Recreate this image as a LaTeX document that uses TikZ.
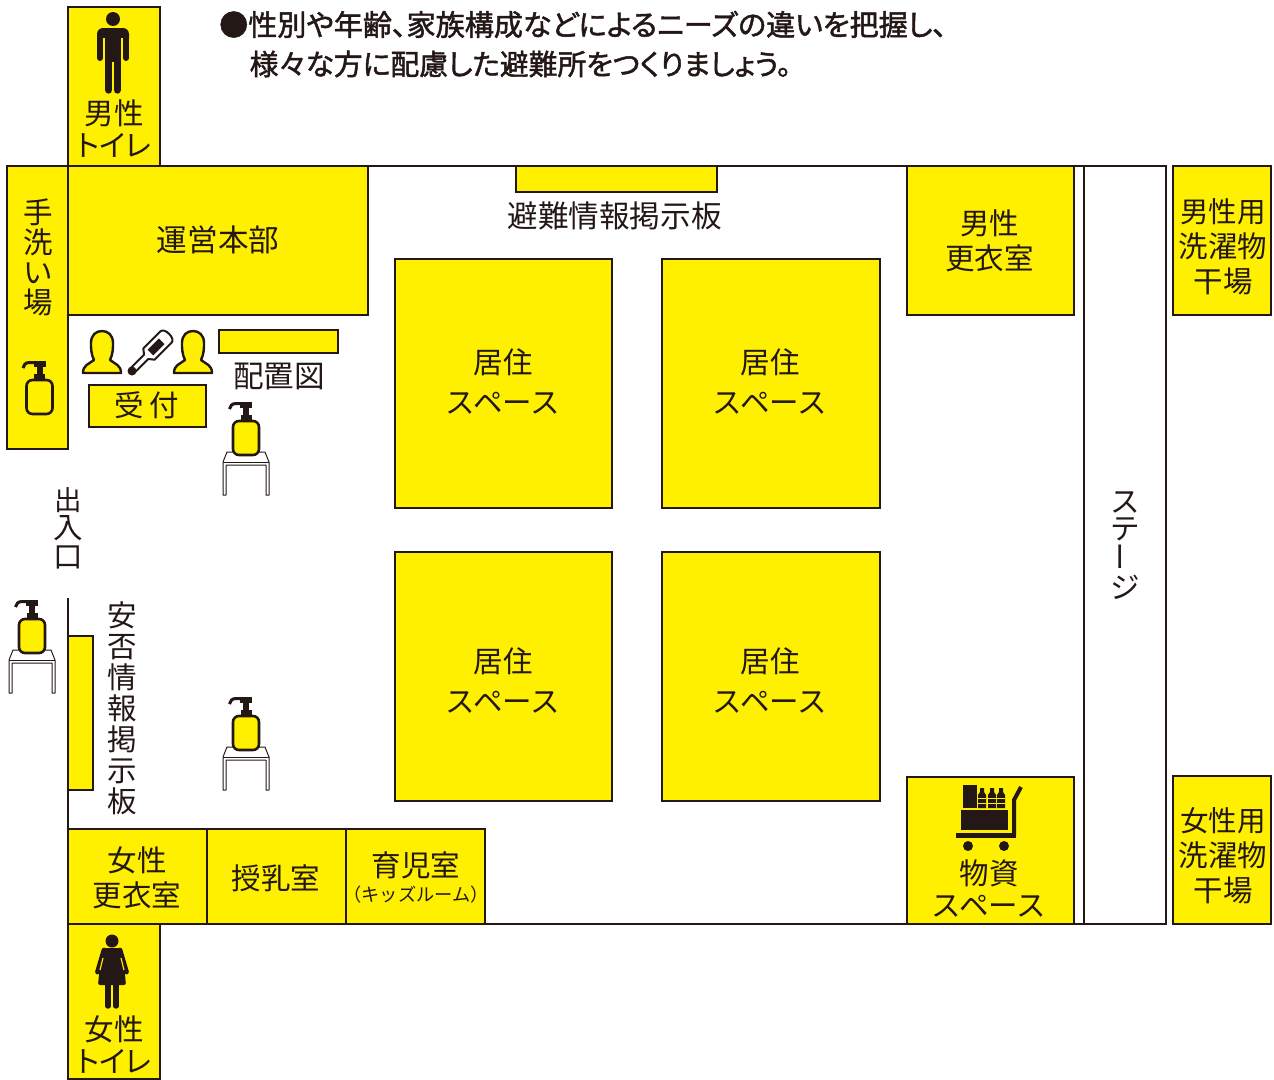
\documentclass[tikz,border=0pt]{standalone}
\usepackage{graphicx}
\usepackage{fontspec}
\setmainfont{Noto Sans CJK JP}
\newfontfamily\headfont[RawFeature=+palt,FakeBold=1.6]{Noto Sans CJK JP}
\newfontfamily\paltfont[RawFeature=+palt]{Noto Sans CJK JP}
\definecolor{ylw}{HTML}{FFF000}
\definecolor{ink}{HTML}{231815}
\newcommand\sz[2]{\fontsize{#1}{#2}\selectfont}
\tikzset{
  room/.style={draw=ink,fill=ylw,line width=2.8pt,inner sep=0pt,outer sep=0pt,align=center,text=ink,font=\sz{29}{40}},
  lbl/.style={inner sep=0pt,outer sep=0pt,align=center,text=ink,font=\sz{29.5}{#1}},
  lbl/.default=35,
  widelbl/.style={inner sep=0pt,outer sep=0pt,align=center,text=ink,font=\sz{30.6}{35}},
  toilet/.style={inner sep=0pt,outer sep=0pt,align=center,text=ink,font=\paltfont\sz{29.5}{32}},
  headline/.style={anchor=west,inner sep=0pt,text=ink,font=\headfont\sz{#1}{32}},
  wall/.style={draw=ink,line width=2.8pt},
  pics/soap/.style={code={
    \fill[ink] (-3,-50) rectangle (3,-36);
    \fill[ink] (-5.5,-40) rectangle (5.5,-32);
    \fill[ink] (-6,-53) rectangle (6,-47);
    \draw[ink,line width=3pt] (-3,-51.5) -- (-10,-51.5) .. controls (-14,-51.5) and (-16,-49) .. (-16.5,-46);
    \draw[ink,fill=ylw,line width=2.6pt,rounded corners=6pt] (-13,-34) rectangle (13,0);
  }},
  pics/soapstand/.style={code={
    \draw[ink,fill=white,line width=1pt,line join=round] (-23,40) -- (-23,7) -- (-19,-3) -- (19,-3) -- (23,7) -- (23,40) -- (20,40) -- (20,10) -- (-20,10) -- (-20,40) -- cycle;
    \draw[ink,line width=1pt] (-23,7) -- (23,7);
  }},
  pics/person/.style={code={
    \draw[ink,fill=ylw,line width=2.4pt,line join=round] (-19,0) .. controls (-19,-8) and (-13,-9) .. (-8,-13) .. controls (-11,-19) and (-11,-25) .. (-11,-30) .. controls (-11,-38) and (-6,-42) .. (0,-42) .. controls (6,-42) and (11,-38) .. (11,-30) .. controls (11,-25) and (11,-19) .. (8,-13) .. controls (13,-9) and (19,-8) .. (19,0) -- cycle;
  }},
}
\begin{document}
\begin{tikzpicture}[x=1pt,y=-1pt]
\useasboundingbox (0,0) rectangle (1274,1079);
\fill[white] (0,0) rectangle (1274,1079);

% walls
\draw[wall] (68,166) -- (1166,166) -- (1166,924) -- (68,924);
\draw[wall] (1084,166) -- (1084,924);
\draw[wall] (68,598) -- (68,1079);

% rooms
\node[room,minimum width=92,minimum height=159] (mwc) at (114,86.5) {};
\node[room,minimum width=61,minimum height=283] (wash) at (37.5,307.5) {};
\node[room,minimum width=300,minimum height=149] (office) at (218,240.5) {};
\node[room,minimum width=201,minimum height=26] (board) at (616.5,179) {};
\node[room,minimum width=167,minimum height=149] (mchange) at (990.5,240.5) {};
\node[room,minimum width=98,minimum height=149] (mdry) at (1222,240.5) {};
\node[room,minimum width=217,minimum height=249] (live1) at (503.5,383.5) {};
\node[room,minimum width=218,minimum height=249] (live2) at (771,383.5) {};
\node[room,minimum width=217,minimum height=249] (live3) at (503.5,676.5) {};
\node[room,minimum width=218,minimum height=249] (live4) at (771,676.5) {};
\node[room,minimum width=119,minimum height=23] (mapboard) at (278.5,341.5) {};
\node[room,minimum width=117,minimum height=42] (recept) at (147.5,406) {};
\node[room,minimum width=25,minimum height=154] (safety) at (80.5,713) {};
\node[room,minimum width=139,minimum height=95] (wchange) at (137.5,876.5) {};
\node[room,minimum width=139,minimum height=95] (nurse) at (276.5,876.5) {};
\node[room,minimum width=139,minimum height=95] (kids) at (415.5,876.5) {};
\node[room,minimum width=167,minimum height=147] (goods) at (990.5,850.5) {};
\node[room,minimum width=98,minimum height=148] (wdry) at (1222,850) {};
\node[room,minimum width=92,minimum height=155] (wwc) at (114,1001.5) {};

% heading
\node[headline=29.1] (head1) at (219,24.5) {●性別や年齢、家族構成などによるニーズの違いを把握し、};
\node[headline=28.8] (head2) at (249.5,64) {様々な方に配慮した避難所をつくりましょう。};

% labels
\node[toilet] (tmwc) at (114,129) {男性\\トイレ};
\node[toilet] (twwc) at (114,1045) {女性\\トイレ};
\node[lbl=30] (twash) at (38,257) {手\\洗\\い\\場};
\node[widelbl] (toffice) at (218,240) {運営本部};
\node[widelbl] (tboard) at (614.5,216) {避難情報掲示板};
\node[lbl] (tmchange) at (989.5,241) {男性\\更衣室};
\node[lbl] (tmdry) at (1223,246.5) {\sz{28.5}{35}男性用\\洗濯物\\干場};
\node[lbl] (twdry) at (1223,856) {\sz{28.5}{35}女性用\\洗濯物\\干場};
\node[lbl=40] (tl1) at (503,381) {居住\\スペース};
\node[lbl=40] (tl2) at (770,381) {居住\\スペース};
\node[lbl=40] (tl3) at (503,680) {居住\\スペース};
\node[lbl=40] (tl4) at (770,680) {居住\\スペース};
\node[widelbl] (tmap) at (279,376) {配置図};
\node[lbl] (trecept) at (147,405) {受\hspace{6pt}付};
\node[lbl=28.5] (tdoor) at (68,528) {\sz{27.5}{28.5}出\\入\\口};
\node[lbl=31] (tsafety) at (122,708) {安\\否\\情\\報\\掲\\示\\板};
\node[lbl] (twchange) at (137,878) {女性\\更衣室};
\node[lbl] (tnurse) at (276,878) {授乳室};
\node[lbl] (tkids1) at (416,865) {育児室};
\node[inner sep=0pt,text=ink,font=\sz{18.2}{24}] (tkids2) at (416,895) {（キッズルーム）};
\node[lbl=32] (tgoods) at (989,888.5) {物資\\スペース};
\node[lbl=27] (tstage) at (1125,546) {ス\\テ\\\rotatebox{90}{ー}\\ジ};

% soap bottles
\pic (s1) at (39.5,414) {soap};
\pic (st2) at (246,455) {soapstand};
\pic (s2) at (246,455) {soap};
\pic (st3) at (32,653) {soapstand};
\pic (s3) at (32,653) {soap};
\pic (st4) at (246,750) {soapstand};
\pic (s4) at (246,750) {soap};

% reception staff and thermometer
\pic (p1) at (102,373) {person};
\pic (p2) at (193,373) {person};
\begin{scope}[shift={(132,371)},rotate=45]
  \draw[ink,fill=white,line width=2pt,line join=round] (0,-3) -- (20,-3) -- (24,-8) -- (48,-8) .. controls (54,-8) and (54,8) .. (48,8) -- (24,8) -- (20,3) -- (0,3) -- cycle;
  \fill[ink] (26,-4) rectangle (42,4);
  \fill[ink] (0,0) circle (4.5);
\end{scope}

% male icon
\fill[ink] (113,19) circle (7);
\fill[ink,rounded corners=6pt] (97,28) rectangle (129,44);
\fill[ylw] (103,38) rectangle (105,46);
\fill[ylw] (121,38) rectangle (123,46);
\fill[ink] (105,30) rectangle (121,62);
\draw[ink,line width=6pt,line cap=round] (100,36) -- (100,58);
\draw[ink,line width=6pt,line cap=round] (126,36) -- (126,58);
\draw[ink,line width=7.4pt,line cap=round] (108.7,60) -- (108.7,90);
\draw[ink,line width=7.4pt,line cap=round] (117.3,60) -- (117.3,90);

% female icon
\fill[ink] (112,941) circle (6.5);
\fill[ink,rounded corners=2pt,line join=round] (104,948) -- (120,948) -- (123,954) -- (126,985) -- (98,985) -- (101,954) -- cycle;
\draw[ink,line width=4.8pt,line cap=round] (104,950) -- (97.5,972);
\draw[ink,line width=4.8pt,line cap=round] (120,950) -- (126.5,972);
\draw[ylw,line width=1.2pt] (103,958) -- (100,970);
\draw[ylw,line width=1.2pt] (121,958) -- (124,970);
\draw[ink,line width=5.4pt,line cap=round] (108,984) -- (108,1006);
\draw[ink,line width=5.4pt,line cap=round] (116,984) -- (116,1006);

% cart
\fill[ink] (963,785) rectangle (977,808);
\foreach \cx in {982,992,1001}{
  \fill[ink] (\cx-4,808) -- (\cx-4,795) -- (\cx-2,792) -- (\cx-2,788) -- (\cx+2,788) -- (\cx+2,792) -- (\cx+4,795) -- (\cx+4,808) -- cycle;
  \draw[ylw,line width=.6pt] (\cx-4,798) -- (\cx+4,798) (\cx-4,803) -- (\cx+4,803);
}
\fill[ink] (961,810) rectangle (1008,830);
\fill[ink] (956,833) rectangle (1016,838);
\draw[ink,line width=4pt,line join=round] (1014,836) -- (1014,800) -- (1021,787);
\fill[ink] (968,846) circle (5);
\fill[ink] (1004,846) circle (5);
\end{tikzpicture}
\end{document}
